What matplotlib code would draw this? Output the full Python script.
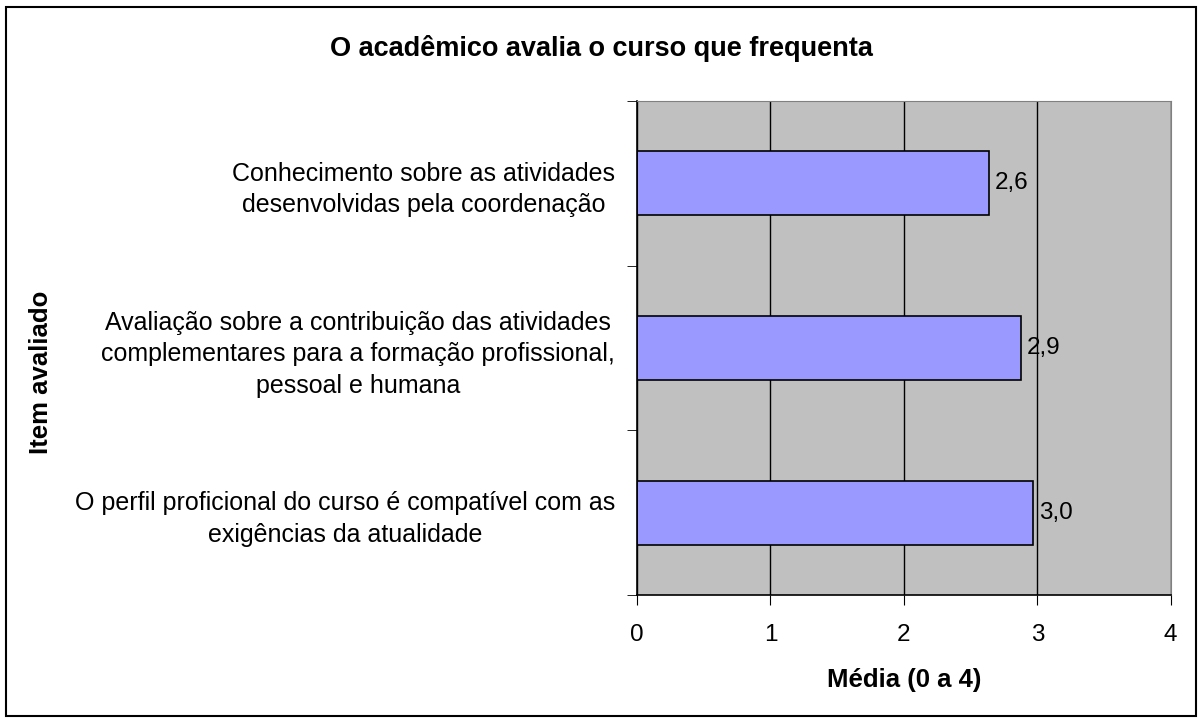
import matplotlib.pyplot as plt
from matplotlib.patches import Rectangle

plt.rcParams['font.family'] = ['Liberation Sans', 'DejaVu Sans']

categorias = [
    'O perfil proficional do curso é compatível com as\nexigências da atualidade',
    'Avaliação sobre a contribuição das atividades\ncomplementares para a formação profissional,\npessoal e humana',
    'Conhecimento sobre as atividades\ndesenvolvidas pela coordenação',
]
medias = [2.97, 2.88, 2.64]
xticks = [0, 1, 2, 3, 4]

fig = plt.figure(figsize=(12.02, 7.18), dpi=100)
ax = fig.add_axes([0.530, 0.1713, 0.444, 0.688])
ax.set_facecolor('#C0C0C0')

ax.set_xlim(0, 4)
ax.set_ylim(-0.5, len(categorias) - 0.5)
ax.set_xticks(xticks)
ax.set_xticklabels([str(t) for t in xticks])
ax.xaxis.grid(True, color='black', linewidth=1)
ax.set_axisbelow(True)

pos = list(range(len(categorias)))
bars = ax.barh(pos, medias, height=0.39, color='#9999FF', edgecolor='black', linewidth=1.2)
ax.bar_label(bars, labels=[f'{v:.1f}'.replace('.', ',') for v in medias],
             padding=4, fontsize=17.5)

# category labels, ticks between categories
ax.set_yticks(pos)
ax.set_yticklabels(categorias, fontsize=18, multialignment='center', linespacing=1.4)
ax.set_yticks([p - 0.5 for p in pos] + [len(pos) - 0.5], minor=True)
ax.tick_params(axis='y', which='major', length=0, pad=16)
ax.tick_params(axis='y', which='minor', length=7, direction='out')
ax.tick_params(axis='x', length=7, direction='out', labelsize=17.5, pad=14)

for s in ['top', 'right']:
    ax.spines[s].set_color('#808080')
for s in ['left', 'bottom']:
    ax.spines[s].set_color('black')
    ax.spines[s].set_linewidth(1.2)

ax.set_xlabel('Média (0 a 4)', fontsize=18.5, fontweight='bold', labelpad=16)
fig.text(0.034, 0.481, 'Item avaliado', rotation=90, fontsize=18.5,
         fontweight='bold', ha='center', va='center')
fig.text(0.5, 0.933, 'O acadêmico avalia o curso que frequenta', fontsize=19.5,
         fontweight='bold', ha='center', va='center')

fig.patches.append(Rectangle((0.005, 0.003), 0.99, 0.987, transform=fig.transFigure,
                             fill=False, edgecolor='black', linewidth=1.5))

fig.savefig('out.png', dpi=100)
